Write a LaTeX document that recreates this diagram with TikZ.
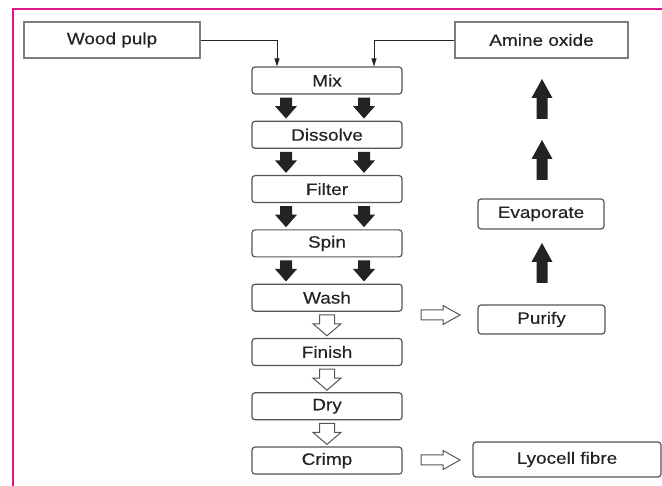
\documentclass[tikz,border=0pt]{standalone}
\usepackage{fontspec}
\setmainfont{Liberation Sans}[FakeStretch=1.15,FakeBold=0.35]
\usetikzlibrary{arrows.meta,calc}
\definecolor{frame}{RGB}{222,22,138}
\definecolor{ink}{RGB}{35,35,35}
\definecolor{boxline}{RGB}{85,85,85}
\definecolor{srcline}{RGB}{125,125,125}
\begin{document}
\begin{tikzpicture}[x=1pt,y=-1pt,
  every node/.style={font=\fontsize{16.5}{18}\selectfont, text=ink, inner sep=0pt},
  proc/.style={draw=boxline, line width=1.2pt, rounded corners=3pt, minimum width=150pt, minimum height=27pt},
  side/.style={draw=boxline, line width=1.2pt, rounded corners=3pt},
  src/.style={draw=srcline, line width=1.8pt, minimum height=36pt},
  conn/.style={draw=ink, line width=0.9pt, -{Triangle[length=8pt,width=5pt]}},
  blkdown/.pic={\fill[ink] (-6,0)--(6,0)--(6,8.5)--(11,8.5)--(0,21)--(-11,8.5)--(-6,8.5)--cycle;},
  blkup/.pic={\fill[ink] (0,0)--(10.5,19)--(5.5,19)--(5.5,40)--(-5.5,40)--(-5.5,19)--(-10.5,19)--cycle;},
  whdown/.pic={\draw[boxline, fill=white, line width=1pt, line join=miter] (-7.5,0)--(7.5,0)--(7.5,9)--(14,9)--(0,21)--(-14,9)--(-7.5,9)--cycle;},
  whright/.pic={\draw[boxline, fill=white, line width=1pt, line join=miter] (0,-5)--(22,-5)--(22,-9.5)--(39,0)--(22,9.5)--(22,5)--(0,5)--cycle;}
]
\useasboundingbox (0,0) rectangle (662,486);
\draw[frame, line width=2pt] (662,9) -- (13,9) -- (13,486);

% source boxes
\node[src, minimum width=176pt] (wp) at (112,40) {Wood pulp};
\node[src, minimum width=173pt] (ao) at (541.5,40) {Amine oxide};

% process column
\node[proc] (mix)  at (327,80.5)  {Mix};
\node[proc] (dis)  at (327,134.8) {Dissolve};
\node[proc] (fil)  at (327,189.1) {Filter};
\node[proc] (spin) at (327,243.4) {Spin};
\node[proc] (wash) at (327,297.7) {Wash};
\node[proc] (fin)  at (327,352)   {Finish};
\node[proc] (dry)  at (327,406.3) {Dry};
\node[proc] (crimp) at (327,460.6) {Crimp};

% right column
\node[side, minimum width=126pt, minimum height=30pt] (evap) at (541,214) {Evaporate};
\node[side, minimum width=127pt, minimum height=29pt] (pur) at (541.5,319.5) {Purify};
\node[side, minimum width=188pt, minimum height=35pt] (lyo) at (567,459.5) {Lyocell fibre};

% inputs
\draw[conn] (wp.east) -| ($(mix.north)+(-50,0)$);
\draw[conn] (ao.west) -| ($(mix.north)+(47,0)$);

% black arrows between process steps
\foreach \b in {mix,dis,fil,spin}{
  \pic at ($(\b.south)+(-41,3)$) {blkdown};
  \pic at ($(\b.south)+(37,3)$) {blkdown};
}

% white arrows
\foreach \b in {wash,fin,dry}{
  \pic at ($(\b.south)+(0,3)$) {whdown};
}
\pic at (421,315) {whright};
\pic at (421,460) {whright};

% recovery arrows
\pic at (542,79) {blkup};
\pic at (542,140) {blkup};
\pic at (542,243) {blkup};
\end{tikzpicture}
\end{document}
